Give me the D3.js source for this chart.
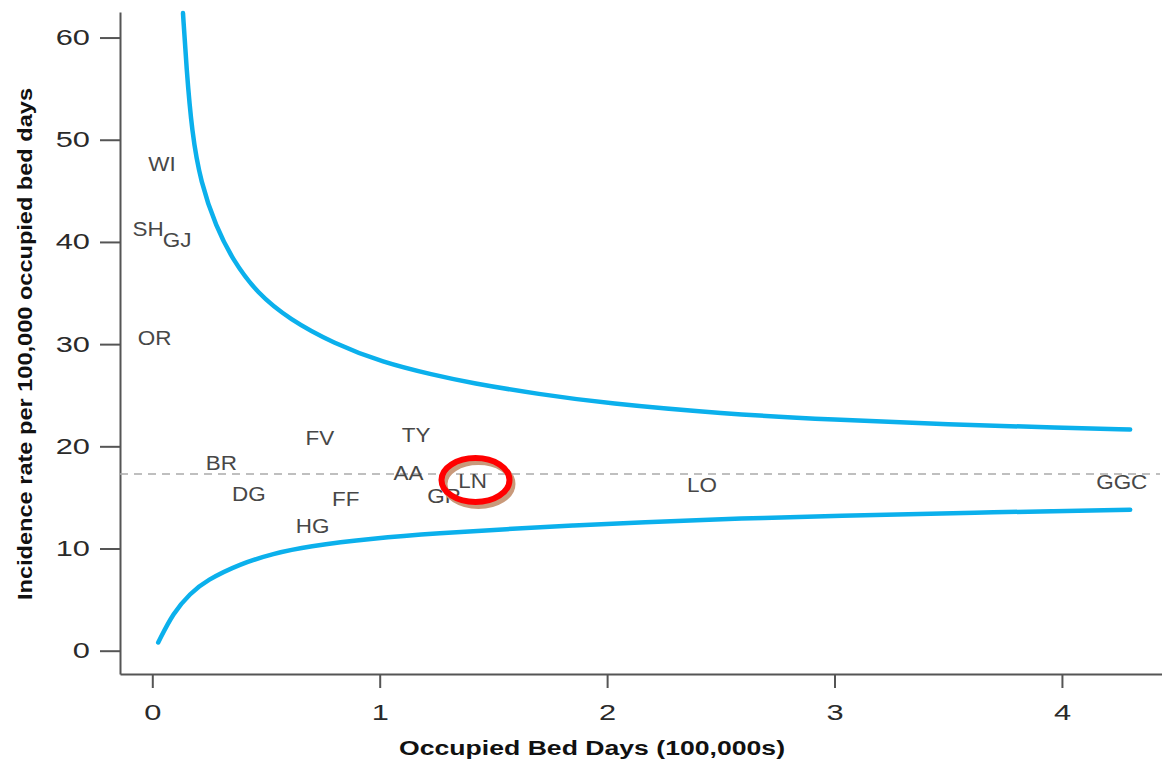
<!DOCTYPE html>
<html>
<head>
<meta charset="utf-8">
<script src="https://cdn.jsdelivr.net/npm/d3@7"></script>
<style>
  html, body { margin: 0; padding: 0; background: #fff; }
  svg { display: block; }
</style>
</head>
<body>
<svg id="chart" width="1162" height="762"></svg>
<script>
// ---- Data ----
const hospitals = ["WI", "SH", "GJ", "OR", "BR", "DG", "HG", "FF", "FV", "TY", "AA", "GR", "LN", "LO", "GGC"];
const bedDays   = [0.043, -0.018, 0.109, 0.010, 0.304, 0.425, 0.705, 0.851, 0.737, 1.160, 1.127, 1.283, 1.408, 2.417, 4.263];
const rates     = [47.7, 41.3, 40.2, 30.7, 18.4, 15.4, 12.3, 14.9, 20.9, 21.2, 17.4, 15.2, 16.7, 16.3, 16.6];

const meanRate = 17.3;

const upperX = [0.135, 0.150, 0.174, 0.213, 0.280, 0.355, 0.46, 0.605, 0.795, 1.015, 1.235, 1.40, 1.7, 2.0, 2.5, 3.0, 3.5, 4.0, 4.3];
const upperY = [62.4, 57.1, 50.7, 45.8, 41.5, 38.2, 35.0, 32.4, 30.1, 28.2, 27.0, 26.2, 25.1, 24.2, 23.2, 22.6, 22.15, 21.8, 21.65];
const lowerX = [0.026, 0.092, 0.166, 0.239, 0.386, 0.532, 0.679, 0.972, 1.265, 1.558, 1.85, 2.14, 2.6, 3.0, 3.6, 4.3];
const lowerY = [0.8, 3.7, 5.6, 6.9, 8.5, 9.5, 10.2, 11.0, 11.5, 11.9, 12.25, 12.55, 12.95, 13.2, 13.5, 13.8];

const xTicks = [0, 1, 2, 3, 4];
const yTicks = [0, 10, 20, 30, 40, 50, 60];
const highlighted = "LN";

// ---- Layout ----
const svg = d3.select("#chart");
const x = d3.scaleLinear().domain([-0.142, 4.44]).range([120, 1162]);
const y = d3.scaleLinear().domain([-2.28, 62.5]).range([674, 12]);

const font = "'Liberation Sans', Arial, Helvetica, sans-serif";

// Axes
const xAxis = svg.append("g")
  .attr("transform", `translate(0,${y.range()[0]})`)
  .call(d3.axisBottom(x).tickValues(xTicks).tickFormat(d3.format("d")).tickSize(14).tickSizeOuter(0).tickPadding(16));
const yAxis = svg.append("g")
  .attr("transform", `translate(${x.range()[0]},0)`)
  .call(d3.axisLeft(y).tickValues(yTicks).tickFormat(d3.format("d")).tickSize(20).tickSizeOuter(0).tickPadding(10));

[xAxis, yAxis].forEach(g => {
  g.select(".domain").attr("stroke", "#555").attr("stroke-width", 2);
  g.selectAll(".tick line").attr("stroke", "#555").attr("stroke-width", 2);
  g.selectAll(".tick text")
    .attr("fill", "#2a2a2a")
    .attr("font-size", null)
    .style("font-family", font)
    .style("font-size", "22px")
    .each(function() {
      const t = d3.select(this);
      const tx = +t.attr("x") || 0, ty = +t.attr("y") || 0;
      t.attr("x", 0).attr("y", 0)
       .attr("transform", `translate(${tx},${ty}) scale(1.4,1)`);
    });
});

// Mean dashed line
svg.append("line")
  .attr("x1", x.range()[0]).attr("x2", x.range()[1] - 2)
  .attr("y1", y(meanRate)).attr("y2", y(meanRate))
  .attr("stroke", "#aaa").attr("stroke-width", 1.5)
  .attr("stroke-dasharray", "8,6");

// Control limit curves
const line = d3.line().x(d => x(d[0])).y(d => y(d[1])).curve(d3.curveBasis);
const upper = upperX.map((v, i) => [v, upperY[i]]);
const lower = lowerX.map((v, i) => [v, lowerY[i]]);
[upper, lower].forEach(pts => {
  svg.append("path").datum(pts)
    .attr("d", line)
    .attr("fill", "none")
    .attr("stroke", "#0bb0ec")
    .attr("stroke-width", 4.5)
    .attr("stroke-linecap", "round");
});

// Hospital labels
svg.append("g").selectAll("text")
  .data(hospitals)
  .join("text")
  .attr("transform", (d, i) => `translate(${x(bedDays[i])},${y(rates[i])}) scale(1.07,1)`)
  .attr("text-anchor", "middle")
  .attr("dy", "0.36em")
  .attr("fill", "#474747")
  .style("font-family", font)
  .style("font-size", "21px")
  .text(d => d);

// Highlight ellipse around LN
const hi = hospitals.indexOf(highlighted);
const cx = x(bedDays[hi]) + 3, cy = y(rates[hi]);
svg.append("ellipse")
  .attr("cx", cx + 3).attr("cy", cy + 4)
  .attr("rx", 34).attr("ry", 22)
  .attr("fill", "none").attr("stroke", "#c9997a").attr("stroke-width", 6);
svg.append("ellipse")
  .attr("cx", cx).attr("cy", cy)
  .attr("rx", 34).attr("ry", 22)
  .attr("fill", "none").attr("stroke", "#ff0000").attr("stroke-width", 6);

// Axis titles
svg.append("text")
  .attr("x", 592).attr("y", 755)
  .attr("text-anchor", "middle")
  .attr("fill", "#111")
  .style("font-family", font).style("font-size", "20px").style("font-weight", "bold")
  .attr("textLength", 386).attr("lengthAdjust", "spacingAndGlyphs")
  .text("Occupied Bed Days (100,000s)");

svg.append("text")
  .attr("transform", "translate(32,344) rotate(-90)")
  .attr("text-anchor", "middle")
  .attr("fill", "#111")
  .style("font-family", font).style("font-size", "20px").style("font-weight", "bold")
  .attr("textLength", 512).attr("lengthAdjust", "spacingAndGlyphs")
  .text("Incidence rate per 100,000 occupied bed days");
</script>
</body>
</html>
